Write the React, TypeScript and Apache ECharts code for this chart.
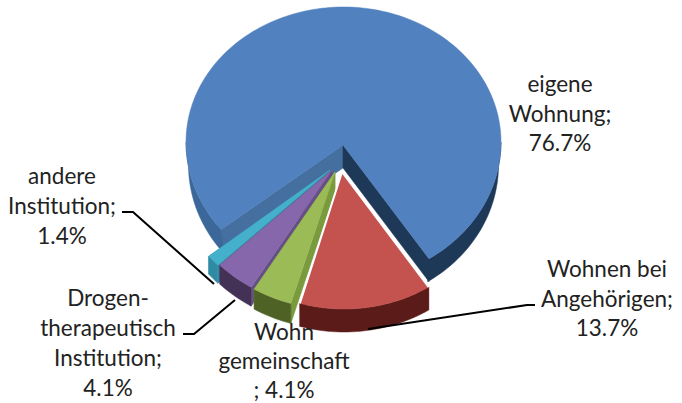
import React, { useEffect, useRef } from "react";
import * as echarts from "echarts";

const categories = ["eigene\nWohnung;", "Wohnen bei\nAngehörigen;", "Wohn\ngemeinschaft\n;", "Drogen-\ntherapeutisch\nInstitution;", "andere\nInstitution;"];
const values = [76.7, 13.7, 4.1, 4.1, 1.4];
const separators = ["\n", "\n", " ", "\n", "\n"];

const START_ANGLE = 231;
const RX = 156;
const RY = 137;

// Exploded placement of each slice (style only, angles come from values)
const placement = [
  { cx: 343.5, cy: 142, rx: 157.5, ryTop: 135, ry: 139, lowRx: 155, ax: 343, ay: 145, depth: 23, z: 1 },
  { cx: 344, cy: 172, rx: RX, ryTop: RY, ry: RY, lowRx: RX, ax: 342, ay: 172, depth: 23, z: 5 },
  { cx: 335, cy: 172, rx: RX, ryTop: RY, ry: RY, lowRx: RX, ax: 335, ay: 172, depth: 20, z: 4 },
  { cx: 332, cy: 170, rx: RX, ryTop: RY, ry: RY, lowRx: RX, ax: 332, ay: 170, depth: 19, z: 3 },
  { cx: 330, cy: 170, rx: RX, ryTop: RY, ry: RY, lowRx: RX, ax: 330, ay: 170, depth: 18, z: 2 },
];
const topColors = ["#5181bf", "#c4534f", "#9bbb57", "#8767ab", "#45b0cb"];
const outerLeftColors = ["#3b6898", "#5a1b19", "#4f6226", "#433256", "#2f8ba3"];
const outerRightColors = ["#1e3858", "#5a1b19", "#4f6226", "#433256", "#2f8ba3"];
const startFaceColors = ["#456f9f", "#8e3a38", "#7a9a3e", "#654f85", "#35889f"];
const endFaceColors = ["#1e3858", "#8e3a38", "#7a9a3e", "#654f85", "#35889f"];

const labelPlaces = [
  { x: 560, y: 113 },
  { x: 607, y: 298 },
  { x: 284, y: 360 },
  { x: 108, y: 342 },
  { x: 62, y: 205 },
];
const labelLineHeights = [29.5, 29.5, 29, 30, 30];

const leaders: number[][][] = [
  [[122, 212], [133, 212], [214, 284]],
  [[183, 334], [194, 334], [235, 300]],
  [[535, 305], [527, 305], [368, 329]],
];

const total = values.reduce((a, b) => a + b, 0);
const startAngles = values.map((_, i) =>
  START_ANGLE + (values.slice(0, i).reduce((a, b) => a + b, 0) / total) * 360
);

function pt(p: any, deg: number, dy = 0, rx = p.rx): number[] {
  const r = (deg * Math.PI) / 180;
  const c = Math.cos(r);
  return [p.cx + rx * Math.sin(r), p.cy - (c > 0 ? p.ryTop : p.ry) * c + dy];
}

function arc(p: any, a0: number, a1: number, dy = 0, rx = p.rx): number[][] {
  const out: number[][] = [];
  const n = Math.max(2, Math.ceil((a1 - a0) / 1.5));
  for (let i = 0; i <= n; i++) out.push(pt(p, a0 + ((a1 - a0) * i) / n, dy, rx));
  return out;
}

function poly(points: number[][], fill: string, z2: number) {
  return {
    type: "polygon",
    z2,
    shape: { points },
    style: { fill, stroke: fill, lineWidth: 0.5 },
    silent: true,
  };
}

function renderItem(params: any, api: any) {
  const i = params.dataIndex;
  const v = api.value(0);
  const p = placement[i];
  const a0 = startAngles[i];
  const a1 = a0 + (v / total) * 360;
  const zb = p.z * 10;
  const children: any[] = [];
  const apex = [p.ax, p.ay];
  const apexLow = [p.ax, p.ay + p.depth];

  const e0 = pt(p, a0);
  const e1 = pt(p, a1);
  children.push(poly([apex, e0, [e0[0], e0[1] + p.depth], apexLow], startFaceColors[i], zb));
  children.push(poly([apex, e1, [e1[0], e1[1] + p.depth], apexLow], endFaceColors[i], zb));

  // visible outer wall: front half of the ellipse
  for (const [lo, hi] of [[90, 270], [450, 630]]) {
    const s = Math.max(a0, lo);
    const t = Math.min(a1, hi);
    if (s < t) {
      const mid = ((s + t) / 2) % 360;
      const color = mid > 180 ? outerLeftColors[i] : outerRightColors[i];
      children.push(poly([...arc(p, s, t), ...arc(p, s, t, p.depth, p.lowRx).reverse()], color, zb + 1));
    }
  }
  children.push(poly([apex, ...arc(p, a0, a1)], topColors[i], zb + 2));

  if (i === 1) {
    children.push({
      type: "polyline",
      z2: zb + 3,
      shape: { points: [e1, apex, e0] },
      style: { stroke: "#ffffff", lineWidth: 2, fill: "none" },
      silent: true,
    });
  }
  return { type: "group", children };
}

export default function App() {
  const ref = useRef<HTMLDivElement>(null);
  useEffect(() => {
    document.body.style.margin = "0";
    const chart = echarts.init(ref.current!, null, { renderer: "svg" });
    const textEls = categories.map((c, i) => ({
      type: "text",
      x: labelPlaces[i].x,
      y: labelPlaces[i].y,
      z: 10,
      style: {
        text: `${c}${separators[i]}${values[i].toFixed(1)}%`,
        font: '22.5px Lato, "Open Sans", sans-serif',
        lineHeight: labelLineHeights[i],
        fill: "#222222",
        align: "center",
        verticalAlign: "middle",
      },
    }));
    const lineEls = leaders.map((pts) => ({
      type: "polyline",
      z: 9,
      shape: { points: pts },
      style: { stroke: "#000000", lineWidth: 2, fill: "none" },
    }));
    chart.setOption({
      animation: false,
      backgroundColor: "#ffffff",
      series: [
        {
          type: "custom",
          coordinateSystem: "none",
          clip: false,
          silent: true,
          renderItem,
          data: values.map((v) => [v]),
        },
      ],
      graphic: { elements: [...lineEls, ...textEls] },
    });
    return () => chart.dispose();
  }, []);
  return <div ref={ref} style={{ width: 682, height: 403 }} />;
}
